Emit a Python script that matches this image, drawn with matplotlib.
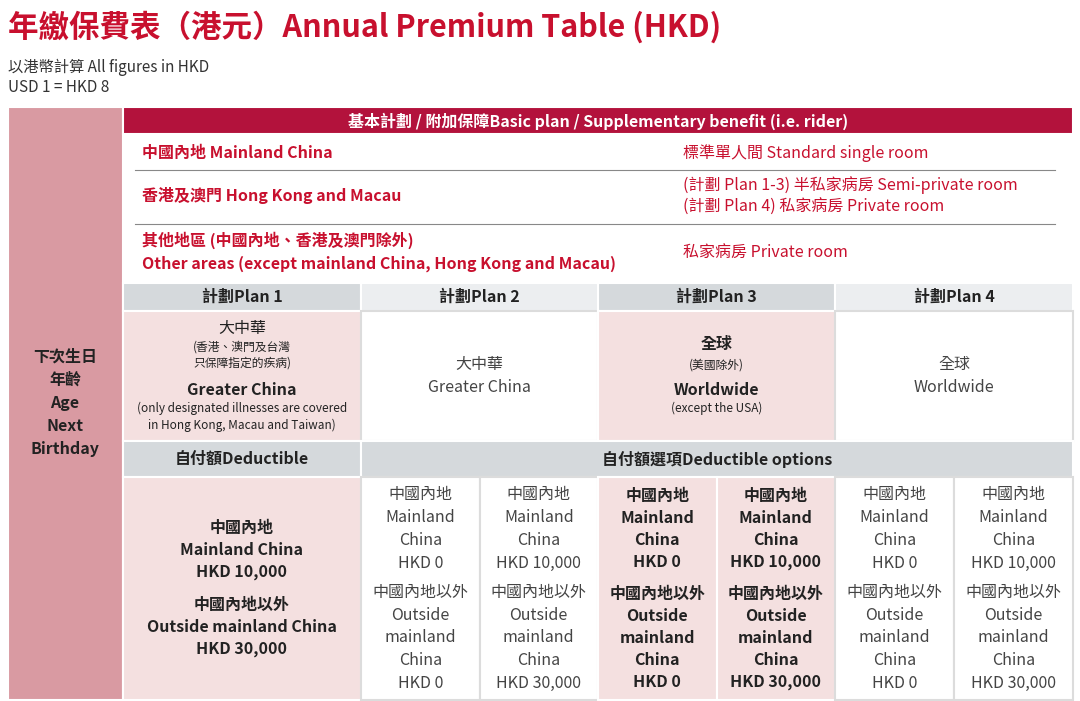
import matplotlib
matplotlib.use("Agg")
import matplotlib.pyplot as plt
from matplotlib.patches import Rectangle

plt.rcParams['font.family'] = ['Noto Sans CJK TC', 'DejaVu Sans']

title = "年繳保費表（港元）Annual Premium Table (HKD)"
sub1 = "以港幣計算 All figures in HKD"
sub2 = "USD 1 = HKD 8"
left_label = "下次生日\n年齡\nAge\nNext\nBirthday"
header = "基本計劃 / 附加保障Basic plan / Supplementary benefit (i.e. rider)"
regions = ["中國內地 Mainland China", "香港及澳門 Hong Kong and Macau",
           "其他地區 (中國內地、香港及澳門除外)\nOther areas (except mainland China, Hong Kong and Macau)"]
rooms = ["標準單人間 Standard single room",
         "(計劃 Plan 1-3) 半私家病房 Semi-private room\n(計劃 Plan 4) 私家病房 Private room",
         "私家病房 Private room"]
plans = ["計劃Plan 1", "計劃Plan 2", "計劃Plan 3", "計劃Plan 4"]
ded_opts = ["HKD 0", "HKD 10,000"]
ded_out = ["HKD 0", "HKD 30,000"]

RED = "#c8102e"
HDR = "#b3123c"
ROSE = "#d99aa2"
PINK = "#f4e0e0"
GRAY = "#d5d9dc"
LGRAY = "#eceef0"
TXT = "#333333"

fig = plt.figure(figsize=(10.8, 7.01), dpi=100)
ax = fig.add_axes([0, 0, 1, 1])
ax.set_xlim(0, 1080); ax.set_ylim(701, 0); ax.axis('off')

def rect(x0, y0, x1, y1, fc, ec='white', lw=1.5):
    ax.add_patch(Rectangle((x0, y0), x1-x0, y1-y0, fc=fc, ec=ec, lw=lw))

ax.text(8, 27, title, color=RED, fontsize=22, fontweight='bold', va='center')
ax.text(8, 67, sub1, color=TXT, fontsize=11, va='center')
ax.text(8, 88, sub2, color=TXT, fontsize=11, va='center')

rect(8, 107, 123, 700, ROSE)
ax.text(65, 403, left_label, ha='center', va='center', fontsize=11.5, color='#222',
        fontweight='bold', linespacing=1.55)
rect(123, 107, 1073, 134, HDR)
ax.text(598, 121, header, ha='center', va='center', color='white', fontsize=11.5, fontweight='bold')

rows_y = [153, 196, 252]
for i, (r, m) in enumerate(zip(regions, rooms)):
    ax.text(142, rows_y[i], r, color=RED, fontsize=11.5, va='center', linespacing=1.5,
            fontweight='semibold')
    ax.text(683, rows_y[i], m, color=RED, fontsize=11.5, va='center', linespacing=1.4)
for y in [170, 224]:
    ax.plot([135, 1055], [y, y], color='#888', lw=0.8)

xs = [123, 361, 598, 835, 1073]
hdr_fc = [GRAY, LGRAY, GRAY, LGRAY]
desc_fc = [PINK, 'white', PINK, 'white']
for i in range(4):
    rect(xs[i], 283, xs[i+1], 311, hdr_fc[i])
    ax.text((xs[i]+xs[i+1])/2, 297, plans[i], ha='center', va='center', fontsize=11.5,
            fontweight='bold', color='#222')
    rect(xs[i], 311, xs[i+1], 441, desc_fc[i], ec='#dcdcdc' if desc_fc[i] == 'white' else 'white')

c = [(xs[i]+xs[i+1])/2 for i in range(4)]
ax.text(c[0], 328, "大中華", ha='center', va='center', fontsize=11.5, color='#222')
ax.text(c[0], 355, "(香港、澳門及台灣\n只保障指定的疾病)", ha='center', va='center', fontsize=8.5, color='#222', linespacing=1.3)
ax.text(c[0], 390, "Greater China", ha='center', va='center', fontsize=11.5, fontweight='bold', color='#222')
ax.text(c[0], 417, "(only designated illnesses are covered\nin Hong Kong, Macau and Taiwan)", ha='center', va='center', fontsize=8.5, color='#222', linespacing=1.3)
ax.text(c[1], 376, "大中華\nGreater China", ha='center', va='center', fontsize=11.5, color='#444', linespacing=1.5)
ax.text(c[2], 344, "全球", ha='center', va='center', fontsize=11.5, color='#222', fontweight='bold')
ax.text(c[2], 365, "(美國除外)", ha='center', va='center', fontsize=8.5, color='#222')
ax.text(c[2], 390, "Worldwide", ha='center', va='center', fontsize=11.5, fontweight='bold', color='#222')
ax.text(c[2], 408, "(except the USA)", ha='center', va='center', fontsize=8.5, color='#222')
ax.text(c[3], 376, "全球\nWorldwide", ha='center', va='center', fontsize=11.5, color='#444', linespacing=1.5)

rect(123, 441, 361, 477, GRAY)
rect(361, 441, 1073, 477, GRAY)
ax.text(c[0], 459, "自付額Deductible", ha='center', va='center', fontsize=11.5, fontweight='bold', color='#222')
ax.text((361+1073)/2, 459, "自付額選項Deductible options", ha='center', va='center', fontsize=11.5, fontweight='bold', color='#222')

rect(123, 477, 361, 700, PINK)
ax.text(c[0], 550, "中國內地\nMainland China\nHKD 10,000", ha='center', va='center', fontsize=11.5, fontweight='bold', color='#222', linespacing=1.45)
ax.text(c[0], 627, "中國內地以外\nOutside mainland China\nHKD 30,000", ha='center', va='center', fontsize=11.5, fontweight='bold', color='#222', linespacing=1.45)

sub_x = [361, 479.5, 598, 716.5, 835, 954, 1073]
for j in range(6):
    plan = j // 2
    bold = plan == 1
    fc = PINK if bold else 'white'
    rect(sub_x[j], 477, sub_x[j+1], 700, fc, ec='white' if bold else '#dcdcdc')
    cx = (sub_x[j]+sub_x[j+1])/2
    fw = 'bold' if bold else 'normal'
    col = '#222' if bold else '#444'
    ax.text(cx, 529, "中國內地\nMainland\nChina\n" + ded_opts[j % 2], ha='center', va='center',
            fontsize=11.5, fontweight=fw, color=col, linespacing=1.45)
    ax.text(cx, 638, "中國內地以外\nOutside\nmainland\nChina\n" + ded_out[j % 2], ha='center', va='center',
            fontsize=11.5, fontweight=fw, color=col, linespacing=1.45)

fig.savefig("out.png", dpi=100)
